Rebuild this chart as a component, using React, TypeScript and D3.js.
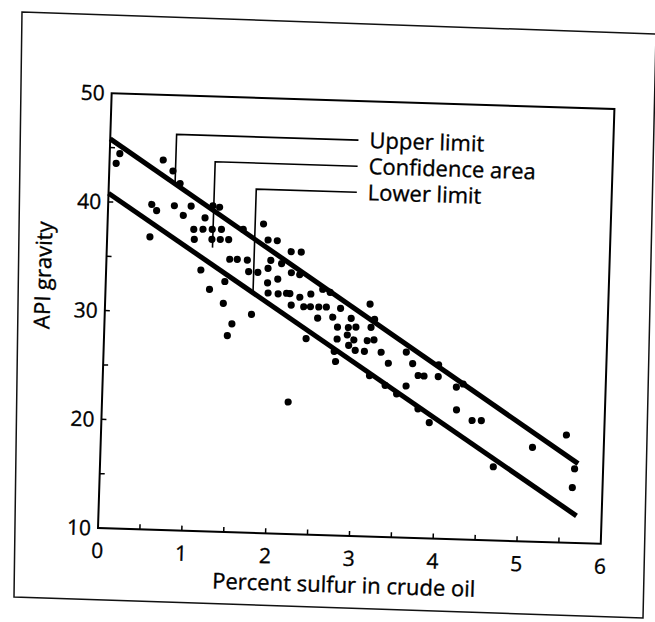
import React from 'react';
import * as d3 from 'd3';

const sulfurPct = [
  0.08, 0.12, 0.64, 0.76, 0.85, 0.52, 0.58, 0.79, 0.90, 0.99,
  1.16, 1.25, 1.33, 0.51, 1.03, 1.14, 1.25, 1.36, 1.04, 1.25,
  1.35, 1.45, 1.62, 1.86, 1.92, 2.03, 2.20, 2.32, 1.47, 1.56,
  1.68, 1.96, 2.09, 1.70, 1.81, 1.93, 2.21, 2.31, 1.13, 1.42,
  1.93, 2.05, 1.24, 1.94, 2.06, 2.16, 2.20, 2.32, 2.45, 2.59,
  2.68, 1.41, 2.22, 2.37, 2.45, 2.55, 2.64, 2.81, 3.16, 1.75,
  2.54, 2.72, 2.94, 3.22, 1.52, 2.78, 2.91, 3.00, 3.18, 1.47,
  2.41, 2.90, 2.78, 2.98, 3.14, 3.22, 2.92, 3.00, 3.11, 2.75,
  2.77, 3.31, 3.18, 3.40, 3.61, 3.69, 3.76, 3.83, 4.00, 4.00,
  4.22, 4.30, 3.37, 3.51, 3.62, 3.77, 3.91, 4.23, 4.42, 4.53,
  4.69, 5.15, 5.55, 5.66, 5.64, 2.22,
];
const apiGravity = [
  43.57, 44.48, 44.01, 43.03, 41.90, 39.89, 39.33, 39.84, 38.97, 39.86,
  38.82, 39.93, 39.83, 36.90, 37.73, 37.76, 37.78, 37.81, 36.81, 36.86,
  36.87, 36.89, 37.87, 38.42, 36.96, 36.92, 35.95, 35.95, 35.08, 35.10,
  35.06, 35.10, 34.82, 33.99, 33.96, 34.36, 34.02, 33.86, 34.01, 33.02,
  33.01, 33.40, 32.26, 32.09, 32.03, 32.12, 32.09, 31.79, 32.12, 32.59,
  32.33, 31.01, 31.05, 30.93, 30.95, 30.95, 30.97, 30.89, 31.37, 30.08,
  29.92, 30.05, 30.00, 29.98, 29.14, 29.16, 29.15, 29.20, 29.22, 28.05,
  28.01, 28.46, 28.06, 28.02, 27.99, 28.09, 27.51, 27.06, 27.01, 26.92,
  25.99, 26.97, 24.78, 25.98, 27.05, 26.01, 24.94, 24.91, 24.89, 25.99,
  23.99, 24.29, 23.93, 23.18, 23.94, 21.88, 20.65, 21.90, 20.96, 20.98,
  16.77, 18.67, 19.90, 16.82, 15.09, 22.13,
];

const xTickValues = [0, 1, 2, 3, 4, 5, 6];
const yTickValues = [10, 20, 30, 40, 50];
const xMinorTicks = [0.5, 1, 1.5, 2, 2.5, 3, 3.5, 4, 4.5, 5, 5.5];
const yMinorTicks = [15, 20, 25, 30, 35, 40, 45];

const limitX = [0, 5.7];
const upperLimitY = [45.8, 17.3];
const lowerLimitY = [40.8, 12.5];

const legendLabels = ['Upper limit', 'Confidence area', 'Lower limit'];
const legendLevelY = [46.4, 44.0, 41.6];
const legendAnchorX = [0.79, 1.26, 1.76];
const legendAnchorEndY = [41.9, 36.1, 32.0];
const legendEndX = 2.96;

const xTitle = 'Percent sulfur in crude oil';
const yTitle = 'API gravity';

const FONT = '"Open Sans", "DejaVu Sans", sans-serif';

export default function App() {
  const ox = 98;
  const oy = 528;
  const x = d3.scaleLinear().domain([0, 6]).range([ox, ox + 503]);
  const y = d3.scaleLinear().domain([10, 50]).range([oy, oy - 435]);

  const limitLine = (ys: number[]) =>
    d3.line<number>()
      .x((_, i) => x(limitX[i]))
      .y((d) => y(d))(ys) as string;

  const textStyle = { stroke: '#000', strokeWidth: 0.35 };

  return (
    <svg
      width={655}
      height={622}
      style={{ position: 'absolute', left: 0, top: 0, background: '#fff' }}
    >
      <rect x={0} y={0} width={655} height={622} fill="#fff" />
      <path d="M22,12 L656,34 L643,618 L14,597 Z" fill="none" stroke="#111" strokeWidth={1.5} />
      <g transform={`rotate(1.8 ${ox} ${oy})`} fontFamily={FONT} fill="#000">
        <rect
          x={x(0)}
          y={y(50)}
          width={x(6) - x(0)}
          height={y(10) - y(50)}
          fill="none"
          stroke="#000"
          strokeWidth={2}
        />
        {xMinorTicks.map((t) => (
          <line key={'xt' + t} x1={x(t)} x2={x(t)} y1={y(10)} y2={y(10) - 5} stroke="#000" strokeWidth={1.5} />
        ))}
        {yMinorTicks.map((t) => (
          <line key={'yt' + t} x1={x(0)} x2={x(0) + 5} y1={y(t)} y2={y(t)} stroke="#000" strokeWidth={1.5} />
        ))}
        {xTickValues.map((t) => (
          <text key={'xl' + t} x={x(t)} y={y(10) + 30} textAnchor="middle" fontSize={21} {...textStyle}>
            {t}
          </text>
        ))}
        {yTickValues.map((t) => (
          <text key={'yl' + t} x={x(0) - 7} y={y(t) + 7.5} textAnchor="end" fontSize={21} {...textStyle}>
            {t}
          </text>
        ))}
        <path d={limitLine(upperLimitY)} stroke="#000" strokeWidth={5} fill="none" />
        <path d={limitLine(lowerLimitY)} stroke="#000" strokeWidth={5} fill="none" />
        {sulfurPct.map((s, i) => (
          <circle key={'p' + i} cx={x(s)} cy={y(apiGravity[i])} r={3.6} fill="#000" />
        ))}
        {legendLabels.map((lab, i) => (
          <g key={'lg' + i}>
            <path
              d={`M${x(legendAnchorX[i])},${y(legendAnchorEndY[i])} L${x(legendAnchorX[i])},${y(legendLevelY[i])} L${x(legendEndX)},${y(legendLevelY[i])}`}
              fill="none"
              stroke="#000"
              strokeWidth={1.6}
            />
            <text x={x(legendEndX) + 11} y={y(legendLevelY[i]) + 7.5} fontSize={22} {...textStyle}>
              {lab}
            </text>
          </g>
        ))}
        <text x={x(3) - 4} y={y(10) + 57} textAnchor="middle" fontSize={22} {...textStyle}>
          {xTitle}
        </text>
        <text
          transform={`translate(${ox - 64},${oy - 251}) rotate(-90)`}
          textAnchor="middle"
          dominantBaseline="central"
          fontSize={22}
          {...textStyle}
        >
          {yTitle}
        </text>
      </g>
    </svg>
  );
}
